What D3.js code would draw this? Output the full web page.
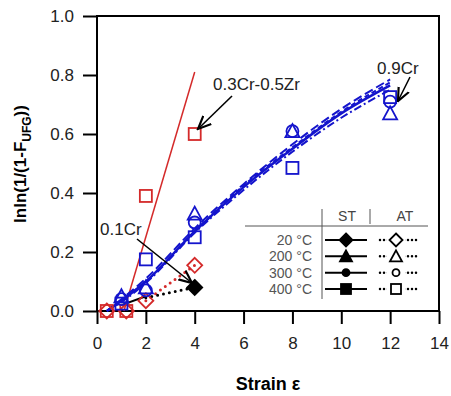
<!DOCTYPE html>
<html>
<head>
<meta charset="utf-8">
<script src="https://cdn.jsdelivr.net/npm/d3@7"></script>
<style>
  body { margin: 0; background: #fff; }
  svg { font-family: "Liberation Sans", Arial, sans-serif; }
</style>
</head>
<body>
<div id="chart"></div>
<script>
// ticks
const xTicks = [0, 2, 4, 6, 8, 10, 12, 14];
const yTicks = [0.0, 0.2, 0.4, 0.6, 0.8, 1.0];

// 0.9Cr (blue)
const blueTri = [[1, 0.05], [2, 0.08], [4, 0.33], [8, 0.61], [12, 0.67]];
const blueCirc = [[1, 0.04], [2, 0.07], [4, 0.30], [8, 0.61], [12, 0.71]];
const blueSq = [[1, 0.025], [2, 0.175], [4, 0.25], [8, 0.485], [12, 0.725]];
const blueFitA = [[0.4, 0], [1, 0.035], [2, 0.10], [4, 0.27], [6, 0.42], [8, 0.55], [10, 0.67], [12, 0.765]];
const blueFitB = [[0.4, 0], [1, 0.04], [2, 0.11], [4, 0.28], [6, 0.43], [8, 0.565], [10, 0.685], [12, 0.785]];
const blueFitC = [[0.4, 0], [1, 0.03], [2, 0.095], [4, 0.265], [6, 0.41], [8, 0.54], [10, 0.655], [12, 0.75]];
const blueFitD = [[0.4, 0], [1, 0.035], [2, 0.10], [4, 0.27], [6, 0.425], [8, 0.555], [10, 0.675], [12, 0.775]];

// 0.3Cr-0.5Zr (red)
const redSq = [[0.4, 0], [1.2, 0], [2, 0.39], [4, 0.60]];
const redDia = [[0.4, 0], [1.2, 0], [2, 0.035], [4, 0.155]];
const redFit = [[1.1, 0], [4.0, 0.81]];
const redDot = [[2, 0.035], [4, 0.155]];

// 0.1Cr (black)
const blackDia = [[4, 0.08]];
const blackFit = [[1, 0.02], [2, 0.05]];
const blackDot = [[2, 0.045], [4, 0.08]];

// legend
const legendTemps = ["20 °C", "200 °C", "300 °C", "400 °C"];
const legendShapes = ["diamond", "triangle", "circle", "square"];

const width = 451, height = 396;
const RED = "#d42a2a", BLUE = "#1414cc";

const svg = d3.select("#chart").append("svg")
  .attr("width", width).attr("height", height);

const x = d3.scaleLinear().domain([0, 14]).range([97, 439]);
const y = d3.scaleLinear().domain([0, 1]).range([311, 16]);

// frame
svg.append("rect")
  .attr("x", x(0)).attr("y", y(1))
  .attr("width", x(14) - x(0)).attr("height", y(0) - y(1))
  .attr("fill", "none").attr("stroke", "#000").attr("stroke-width", 2);

svg.append("g")
  .attr("transform", `translate(0,${y(0)})`)
  .call(d3.axisBottom(x).tickValues(xTicks).tickSize(13).tickPadding(13).tickFormat(d3.format("d")))
  .call(g => g.select(".domain").remove())
  .call(g => g.selectAll("line").attr("stroke-width", 2))
  .call(g => g.selectAll("text").attr("font-size", 17).attr("fill", "#222"));

svg.append("g")
  .attr("transform", `translate(${x(0)},0)`)
  .call(d3.axisLeft(y).tickValues(yTicks).tickSize(14).tickPadding(9).tickFormat(d3.format(".1f")))
  .call(g => g.select(".domain").remove())
  .call(g => g.selectAll("line").attr("stroke-width", 2))
  .call(g => g.selectAll("text").attr("font-size", 17).attr("fill", "#222"));

// axis titles
svg.append("text")
  .attr("x", 268).attr("y", 390)
  .attr("text-anchor", "middle").attr("font-size", 18).attr("font-weight", "bold")
  .text("Strain ε");

const yl = svg.append("text")
  .attr("transform", "translate(26,164) rotate(-90)")
  .attr("text-anchor", "middle").attr("font-size", 17).attr("font-weight", "bold");
yl.append("tspan").text("lnln(1/(1-F");
yl.append("tspan").attr("font-size", 12).attr("dy", 5).text("UFG");
yl.append("tspan").attr("dy", -5).text("))");

const line = d3.line().x(d => x(d[0])).y(d => y(d[1]));
const curve = d3.line().x(d => x(d[0])).y(d => y(d[1])).curve(d3.curveMonotoneX);

// fit lines
svg.append("path").attr("d", line(redFit)).attr("fill", "none").attr("stroke", RED).attr("stroke-width", 1.5);
svg.append("path").attr("d", line(redDot)).attr("fill", "none").attr("stroke", RED)
  .attr("stroke-width", 3).attr("stroke-dasharray", "0 6").attr("stroke-linecap", "round");
svg.append("path").attr("d", line(blackFit)).attr("fill", "none").attr("stroke", "#000").attr("stroke-width", 2);
svg.append("path").attr("d", line(blackDot)).attr("fill", "none").attr("stroke", "#000")
  .attr("stroke-width", 3).attr("stroke-dasharray", "0 6").attr("stroke-linecap", "round");

const blueFits = [
  { data: blueFitA, dash: null, w: 2.5 },
  { data: blueFitB, dash: "9 4", w: 2 },
  { data: blueFitC, dash: "8 3 2 3", w: 2 },
  { data: blueFitD, dash: "5 3", w: 2 }
];
blueFits.forEach(f => {
  svg.append("path").attr("d", curve(f.data)).attr("fill", "none")
    .attr("stroke", BLUE).attr("stroke-width", f.w)
    .attr("stroke-dasharray", f.dash);
});

// markers
function marker(g, shape, cx, cy, size, color, filled) {
  let el;
  const s = size / 2;
  if (shape === "square") {
    el = g.append("rect").attr("x", cx - s).attr("y", cy - s).attr("width", size).attr("height", size);
  } else if (shape === "circle") {
    el = g.append("circle").attr("cx", cx).attr("cy", cy).attr("r", s);
  } else if (shape === "triangle") {
    el = g.append("path").attr("d", `M${cx},${cy - s - 1}L${cx + s + 1},${cy + s}L${cx - s - 1},${cy + s}Z`);
  } else {
    el = g.append("path").attr("d", `M${cx},${cy - s - 1.5}L${cx + s + 1.5},${cy}L${cx},${cy + s + 1.5}L${cx - s - 1.5},${cy}Z`);
  }
  el.attr("fill", filled ? color : "none").attr("stroke", color).attr("stroke-width", 1.8);
}

const pts = svg.append("g");
const series = [
  { data: redDia, shape: "diamond", color: RED, filled: false },
  { data: redSq, shape: "square", color: RED, filled: false },
  { data: blackDia, shape: "diamond", color: "#000", filled: true },
  { data: blueSq, shape: "square", color: BLUE, filled: false },
  { data: blueCirc, shape: "circle", color: BLUE, filled: false },
  { data: blueTri, shape: "triangle", color: BLUE, filled: false }
];
series.forEach(s => s.data.forEach(d => marker(pts, s.shape, x(d[0]), y(d[1]), 12, s.color, s.filled)));

// annotations
svg.append("defs").append("marker")
  .attr("id", "arr").attr("viewBox", "0 0 10 10").attr("refX", 9).attr("refY", 5)
  .attr("markerWidth", 9).attr("markerHeight", 9).attr("orient", "auto")
  .append("path").attr("d", "M0,1L9,5L0,9").attr("fill", "none").attr("stroke", "#000").attr("stroke-width", 1.5);

function note(label, tx, ty, x1, y1, x2, y2) {
  svg.append("text").attr("x", tx).attr("y", ty).attr("font-size", 17).attr("fill", "#222").text(label);
  svg.append("line").attr("x1", x1).attr("y1", y1).attr("x2", x2).attr("y2", y2)
    .attr("stroke", "#000").attr("stroke-width", 1.6).attr("marker-end", "url(#arr)");
}
note("0.3Cr-0.5Zr", 213, 90, 232, 96, 198, 129);
note("0.9Cr", 377, 74, 410, 77, 398, 101);
note("0.1Cr", 100, 235, 137, 239, 192, 283);

// legend table
const lg = svg.append("g").attr("stroke", "#555");
lg.append("line").attr("x1", 245).attr("x2", 428).attr("y1", 226).attr("y2", 226).attr("stroke-width", 1);
lg.append("line").attr("x1", 322).attr("x2", 322).attr("y1", 209).attr("y2", 299).attr("stroke-width", 1);
lg.append("line").attr("x1", 370).attr("x2", 370).attr("y1", 209).attr("y2", 224).attr("stroke-width", 1);
svg.append("text").attr("x", 347).attr("y", 221).attr("text-anchor", "middle").attr("font-size", 14).attr("fill", "#444").text("ST");
svg.append("text").attr("x", 405).attr("y", 221).attr("text-anchor", "middle").attr("font-size", 14).attr("fill", "#444").text("AT");

const rowY = d3.scalePoint().domain(legendTemps).range([240, 289]);
legendTemps.forEach((t, i) => {
  const cy = rowY(t);
  svg.append("text").attr("x", 312).attr("y", cy + 5).attr("text-anchor", "end")
    .attr("font-size", 14).attr("fill", "#555").text(t);
  svg.append("line").attr("x1", 325).attr("x2", 367).attr("y1", cy).attr("y2", cy)
    .attr("stroke", "#000").attr("stroke-width", 2);
  const sz = legendShapes[i] === "circle" ? 7 : 10;
  marker(svg, legendShapes[i], 346, cy, sz, "#000", true);
  svg.append("line").attr("x1", 380).attr("x2", 420).attr("y1", cy).attr("y2", cy)
    .attr("stroke", "#000").attr("stroke-width", 2.5).attr("stroke-dasharray", "0 4").attr("stroke-linecap", "round");
  svg.append("rect").attr("x", 387).attr("y", cy - 7).attr("width", 18).attr("height", 14).attr("fill", "#fff");
  marker(svg, legendShapes[i], 396, cy, sz, "#000", false);
});
</script>
</body>
</html>
